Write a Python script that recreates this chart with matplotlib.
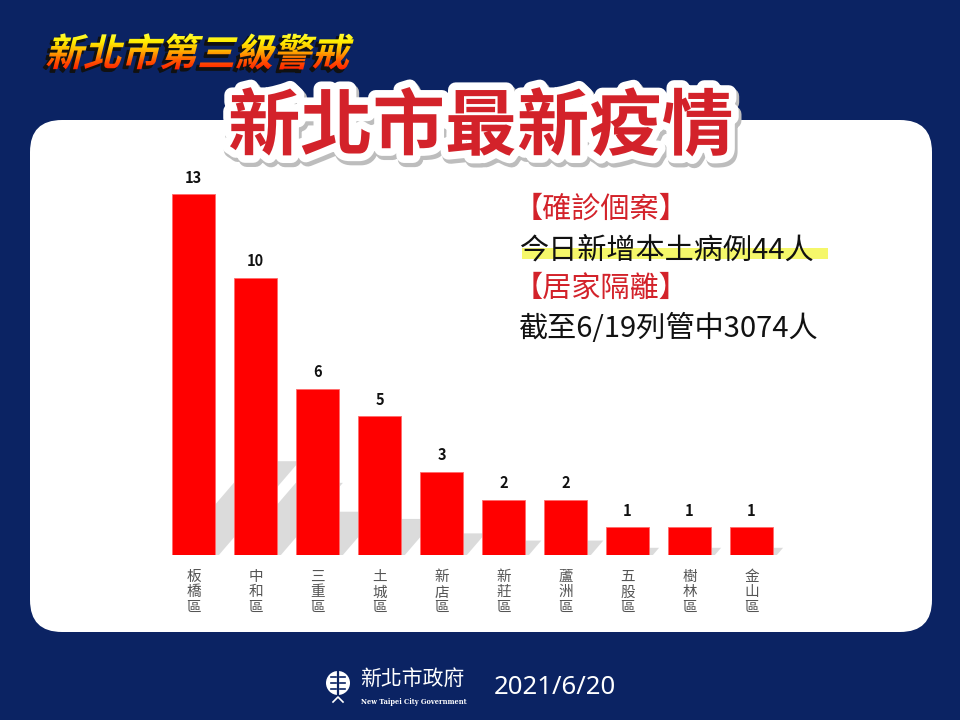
import numpy as np
import matplotlib
matplotlib.use('Agg')
import matplotlib.pyplot as plt
import matplotlib.patheffects as pe
from matplotlib.patches import FancyBboxPatch, Rectangle, Polygon, PathPatch, Circle
from matplotlib.textpath import TextPath
from matplotlib.font_manager import FontProperties
from matplotlib.transforms import Affine2D
from matplotlib.colors import LinearSegmentedColormap

plt.rcParams['font.family'] = ['Noto Sans CJK TC', 'DejaVu Sans']

# data
districts = ['板橋區', '中和區', '三重區', '土城區', '新店區',
             '新莊區', '蘆洲區', '五股區', '樹林區', '金山區']
cases = [13, 10, 6, 5, 3, 2, 2, 1, 1, 1]

banner = '新北市第三級警戒'
title = '新北市最新疫情'
info_head1 = '【確診個案】'
info_line1 = '今日新增本土病例44人'
info_head2 = '【居家隔離】'
info_line2 = '截至6/19列管中3074人'
org_name = '新北市政府'
org_name_en = 'New Taipei City Government'
date_str = '2021/6/20'

NAVY = '#0b2363'
RED_TXT = '#d3222a'
BAR_RED = '#ff0000'

fig = plt.figure(figsize=(9.6, 7.2), dpi=100)
fig.patch.set_facecolor(NAVY)

# background layer in pixel coordinates (y down)
bg = fig.add_axes([0, 0, 1, 1])
bg.set_axis_off()

panel = FancyBboxPatch((30, 120), 902, 512, boxstyle='round,pad=0,rounding_size=32',
                       facecolor='white', edgecolor='none')
bg.add_patch(panel)

# banner with yellow-red gradient, italic skew and dark shadow
fp = FontProperties(family='Noto Sans CJK TC', weight='heavy')
tp = TextPath((0, 0), banner, size=38, prop=fp)
tr = Affine2D().skew_deg(14, 0).scale(1, -1).translate(45, 66)
banner_path = tr.transform_path(tp)
shadow_path = Affine2D().translate(-3, 3).transform_path(banner_path)
bg.add_patch(PathPatch(shadow_path, facecolor='#111111', edgecolor='#111111', lw=1.0))
bpatch = PathPatch(banner_path, facecolor='none', edgecolor='none')
bg.add_patch(bpatch)
grad_cmap = LinearSegmentedColormap.from_list('g', ['#ffff40', '#ffee00', '#ffb000', '#ff5a00', '#ff2000'])
grad = np.linspace(0, 1, 64).reshape(-1, 1)
im = bg.imshow(grad, cmap=grad_cmap, extent=(40, 370, 70, 32), origin='upper', aspect='auto', zorder=3)
im.set_clip_path(bpatch)

# big title
bg.text(481, 128, title, ha='center', va='center', fontsize=52, fontweight='heavy',
        color=RED_TXT, zorder=5,
        path_effects=[pe.Stroke(linewidth=12, foreground='#bdbdbd', offset=(1.5, -2.5)),
                      pe.Stroke(linewidth=11, foreground='white'),
                      pe.Normal()])

# info block
bg.add_patch(Rectangle((522, 248), 306, 11, facecolor='#f4f75a', edgecolor='none', alpha=0.9))
bg.text(514, 210, info_head1, ha='left', va='center', fontsize=21, color=RED_TXT)
bg.text(519, 251, info_line1, ha='left', va='center', fontsize=21, color='#111111')
bg.text(514, 289, info_head2, ha='left', va='center', fontsize=21, color=RED_TXT)
bg.text(519, 329, info_line2, ha='left', va='center', fontsize=21, color='#111111')

# footer
bg.add_patch(Circle((338, 683), 12, facecolor='white', edgecolor='none'))
bg.plot([338, 338], [672, 694], color=NAVY, lw=1.6)
for yy in (677, 683, 689):
    bg.plot([331, 336], [yy, yy], color=NAVY, lw=1.2)
    bg.plot([340, 345], [yy, yy], color=NAVY, lw=1.2)
bg.plot([333, 338, 343], [702, 697, 702], color='white', lw=1.2)
bg.text(412, 679, org_name, ha='center', va='center', fontsize=15, color='white')
bg.text(414, 702, org_name_en, ha='center', va='center', fontsize=4.8, color='white',
        family='DejaVu Serif', fontweight='bold')
bg.text(555, 688, date_str, ha='center', va='center', fontsize=18.5, color='white',
        family='Noto Sans')

bg.set_xlim(0, 960)
bg.set_ylim(720, 0)

# bar chart
x = np.arange(len(cases))
unit_px = 62.0
left_px = 193.5 - 0.6 * unit_px
right_px = 193.5 + 9.6 * unit_px
base_px, top_px = 555, 555 - 14 * 27.75
ax = fig.add_axes([left_px / 960, 1 - base_px / 720,
                   (right_px - left_px) / 960, (base_px - top_px) / 720])
ax.patch.set_visible(False)
w = 0.7
# soft cast shadows behind bars
for xi, v in zip(x, cases):
    hs = 0.26 * v
    dx = 0.1 * v
    ax.add_patch(Polygon([(xi - w / 2, 0), (xi + w / 2 + 0.06, 0),
                          (xi + w / 2 + 0.06 + dx, hs), (xi - w / 2 + dx, hs)],
                         closed=True, facecolor='#c4c4c4', edgecolor='none', alpha=0.6, zorder=1))
ax.bar(x, cases, width=w, color=BAR_RED, edgecolor='#ff6b6b', linewidth=0.6, zorder=2)
for xi, v in zip(x, cases):
    ax.text(xi, v + 0.3, str(v), ha='center', va='bottom', fontsize=10.5,
            fontweight='bold', color='#111111')
ax.set_xlim(-0.6, 9.6)
ax.set_ylim(0, 14)
ax.set_xticks(x)
ax.set_xticklabels(['\n'.join(d) for d in districts], fontsize=10.5, color='#555555',
                   linespacing=1.1, va='top')
ax.tick_params(axis='x', length=0, pad=11)
ax.set_yticks([])
for s in ax.spines.values():
    s.set_visible(False)

fig.savefig('out.png', dpi=100, facecolor=NAVY)
